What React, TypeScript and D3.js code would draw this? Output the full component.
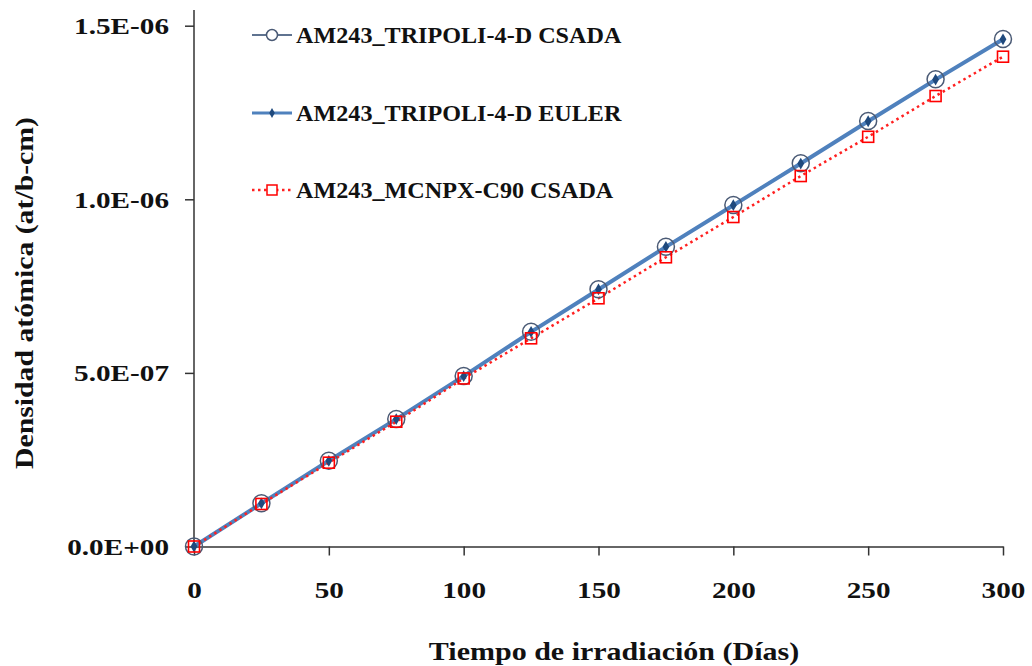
import { useEffect, useRef } from "react";
import { select, scaleLinear, axisBottom, axisLeft, line, symbol, symbolDiamond } from "d3";

const days = [0, 25, 50, 75, 100, 125, 150, 175, 200, 225, 250, 275, 300];
const tripoliCsada = [0, 1.244e-7, 2.471e-7, 3.672e-7, 4.91e-7, 6.187e-7, 7.408e-7, 8.635e-7, 9.836e-7, 1.1037e-6, 1.2255e-6, 1.3456e-6, 1.4617e-6];
const tripoliEuler = [0, 1.243e-7, 2.469e-7, 3.67e-7, 4.907e-7, 6.183e-7, 7.404e-7, 8.63e-7, 9.83e-7, 1.103e-6, 1.2248e-6, 1.3448e-6, 1.4609e-6];
const mcnpxCsada = [0, 1.225e-7, 2.414e-7, 3.594e-7, 4.84e-7, 5.996e-7, 7.149e-7, 8.33e-7, 9.49e-7, 1.067e-6, 1.18e-6, 1.2975e-6, 1.4107e-6];
const xTicks = [0, 50, 100, 150, 200, 250, 300];
const yTicks = [0, 5e-7, 1e-6, 1.5e-6];
const seriesNames = ["AM243_TRIPOLI-4-D CSADA", "AM243_TRIPOLI-4-D EULER", "AM243_MCNPX-C90 CSADA"];

const FONT = "Liberation Serif, DejaVu Serif, serif";

const sci = (d: number) => {
  const [m, e] = d.toExponential(1).split("e");
  const n = Math.abs(+e);
  return `${m}E${+e < 0 ? "-" : "+"}${n < 10 ? "0" + n : n}`;
};

// the serif face is missing here, so stretch the text to the width it has in the picture
const stretch = (sel: any, k: number) => {
  sel.each(function (this: SVGTextElement) {
    const w = this.getComputedTextLength();
    select(this).attr("textLength", w * k).attr("lengthAdjust", "spacingAndGlyphs");
  });
};

const Chart = () => {
  const ref = useRef<SVGSVGElement>(null);
  const width = 1032;
  const height = 666;

  useEffect(() => {
    const svg = select(ref.current);
    svg.selectAll("*").remove();

    const x = scaleLinear().domain([0, 300]).range([194, 1003]);
    const y = scaleLinear().domain([0, 1.5e-6]).range([546.5, 25.7]);

    // axes
    const gx = svg
      .append("g")
      .attr("transform", `translate(0,${y(0)})`)
      .call(axisBottom(x).tickValues(xTicks).tickSize(9).tickSizeOuter(0).tickPadding(26));
    const gy = svg
      .append("g")
      .attr("transform", `translate(${x(0)},0)`)
      .call(axisLeft(y).tickValues(yTicks).tickFormat((d) => sci(+d)).tickSize(9).tickSizeOuter(0).tickPadding(16));
    gy.select(".domain").attr("d", `M0,10V${y(0)}`);

    [gx, gy].forEach((g) => {
      g.attr("font-family", null).attr("font-size", null);
      g.selectAll(".domain, line").attr("stroke", "#333").attr("stroke-width", 1.5);
      g.selectAll("text")
        .style("font-family", FONT)
        .style("font-weight", "bold")
        .style("font-size", "23px")
        .attr("fill", "#111");
      stretch(g.selectAll("text"), 1.27);
    });
    gy.selectAll("text").attr("dy", "0.35em");

    const xt = svg
      .append("text")
      .attr("x", 614)
      .attr("y", 660)
      .attr("text-anchor", "middle")
      .style("font-family", FONT)
      .style("font-weight", "bold")
      .style("font-size", "25px")
      .attr("fill", "#111")
      .text("Tiempo de irradiación (Días)");
    stretch(xt, 1.2);

    const yt = svg
      .append("text")
      .attr("transform", `translate(33,293) rotate(-90)`)
      .attr("text-anchor", "middle")
      .style("font-family", FONT)
      .style("font-weight", "bold")
      .style("font-size", "25px")
      .attr("fill", "#111")
      .text("Densidad atómica (at/b-cm)");
    stretch(yt, 1.19);

    const mk = (vals: number[]) =>
      line<number>()
        .x((_, i) => x(days[i]))
        .y((d) => y(d))(vals);

    // lines
    svg.append("path").attr("d", mk(tripoliCsada)).attr("fill", "none").attr("stroke", "#5f7390").attr("stroke-width", 2);
    svg.append("path").attr("d", mk(tripoliEuler)).attr("fill", "none").attr("stroke", "#4f81bd").attr("stroke-width", 4);
    svg
      .append("path")
      .attr("d", mk(mcnpxCsada))
      .attr("fill", "none")
      .attr("stroke", "#ff2020")
      .attr("stroke-width", 2.5)
      .attr("stroke-dasharray", "2.5 3.5");

    // markers
    svg
      .append("g")
      .selectAll("circle")
      .data(tripoliCsada)
      .join("circle")
      .attr("cx", (_, i) => x(days[i]))
      .attr("cy", (d) => y(d))
      .attr("r", 8.5)
      .attr("fill", "none")
      .attr("stroke", "#4a5a75")
      .attr("stroke-width", 1.5);

    const diamond = symbol().type(symbolDiamond).size(40);
    svg
      .append("g")
      .selectAll("path")
      .data(tripoliEuler)
      .join("path")
      .attr("d", diamond)
      .attr("transform", (d, i) => `translate(${x(days[i])},${y(d)})`)
      .attr("fill", "#1f497d");

    svg
      .append("g")
      .selectAll("rect")
      .data(mcnpxCsada)
      .join("rect")
      .attr("x", (_, i) => x(days[i]) - 5.5)
      .attr("y", (d) => y(d) - 5.5)
      .attr("width", 11)
      .attr("height", 11)
      .attr("fill", "none")
      .attr("stroke", "#ff0000")
      .attr("stroke-width", 1.6);

    // legend
    const rows = [35, 113, 190];
    const lg = svg.append("g");
    rows.forEach((ry, i) => {
      const l = lg.append("line").attr("x1", 252).attr("x2", 292).attr("y1", ry).attr("y2", ry);
      if (i === 0) {
        l.attr("stroke", "#5f7390").attr("stroke-width", 2);
        lg.append("circle").attr("cx", 272).attr("cy", ry).attr("r", 5.5).attr("fill", "white").attr("stroke", "#4a5a75").attr("stroke-width", 1.5);
      } else if (i === 1) {
        l.attr("stroke", "#4f81bd").attr("stroke-width", 3);
        lg.append("path").attr("d", symbol().type(symbolDiamond).size(28)()).attr("transform", `translate(272,${ry})`).attr("fill", "#1f497d");
      } else {
        l.attr("stroke", "#ff2020").attr("stroke-width", 2.5).attr("stroke-dasharray", "2.5 3.5");
        lg.append("rect").attr("x", 267).attr("y", ry - 5).attr("width", 10).attr("height", 10).attr("fill", "white").attr("stroke", "#ff0000").attr("stroke-width", 1.5);
      }
      const t = lg
        .append("text")
        .attr("x", 296)
        .attr("y", ry)
        .attr("dy", "0.35em")
        .style("font-family", FONT)
        .style("font-weight", "bold")
        .style("font-size", "23px")
        .attr("fill", "#111")
        .text(seriesNames[i]);
      stretch(t, 1.05);
    });
  }, []);

  return <svg ref={ref} width={width} height={height} style={{ position: "absolute", left: 0, top: 0, background: "white" }} />;
};

export default function App() {
  return <Chart />;
}
